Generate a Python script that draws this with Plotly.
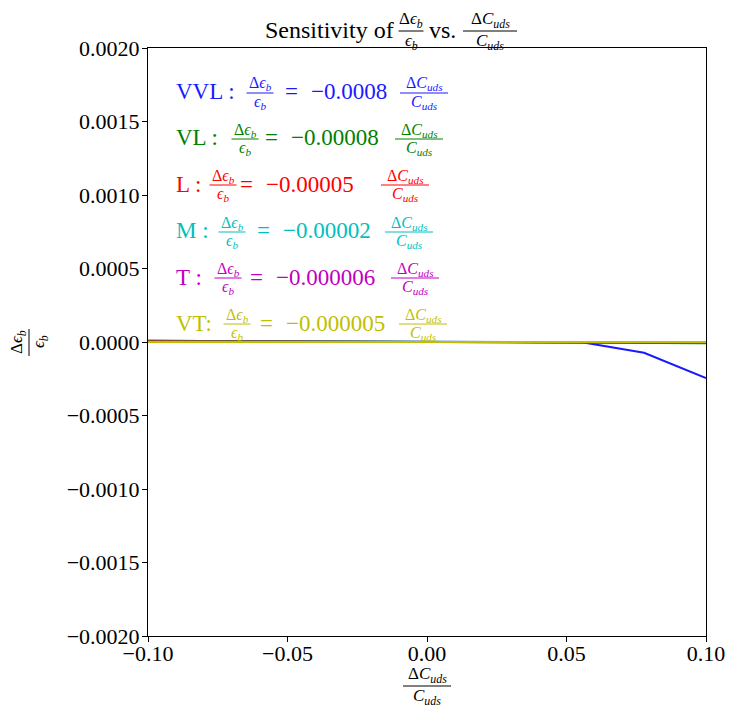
import plotly.graph_objects as go

# ---------------- data ----------------
x_vals = [-0.1, -0.0778, -0.0556, -0.0333, -0.0111, 0.0111, 0.0333, 0.0556, 0.0778, 0.1]
vvl = [0.000008, 0.000007, 0.000006, 0.000005, 0.000004, 0.000003, 0.000002, -0.000001, -0.000073, -0.000245]
vl = [0.000008, 0.0000062, 0.0000044, 0.0000027, 0.0000009, -0.0000009, -0.0000027, -0.0000044, -0.0000062, -0.000008]
l_ = [0.000005, 0.0000039, 0.0000028, 0.0000017, 0.0000006, -0.0000006, -0.0000017, -0.0000028, -0.0000039, -0.000005]
m_ = [0.000002, 0.0000016, 0.0000011, 0.0000007, 0.0000002, -0.0000002, -0.0000007, -0.0000011, -0.0000016, -0.000002]
t_ = [0.0000006, 0.0000005, 0.0000003, 0.0000002, 0.0000001, -0.0000001, -0.0000002, -0.0000003, -0.0000005, -0.0000006]
vt = [0.0000005, 0.0000004, 0.0000003, 0.0000002, 0.0000001, -0.0000001, -0.0000002, -0.0000003, -0.0000004, -0.0000005]

series_names = ["VVL", "VL", "L", "M", "T", "VT"]
series_values = [vvl, vl, l_, m_, t_, vt]
series_labels = ["VVL :", "VL :", "L :", "M :", "T :", "VT:"]
series_slopes = ["−0.0008", "−0.00008", "−0.00005", "−0.00002", "−0.000006", "−0.000005"]
colors = ["#1a1aff", "#008000", "#ff0000", "#00bfbf", "#bf00bf", "#bfbf00"]

x_ticks = [-0.1, -0.05, 0.0, 0.05, 0.1]
y_ticks = [-0.002, -0.0015, -0.001, -0.0005, 0.0, 0.0005, 0.001, 0.0015, 0.002]

# ---------------- layout geometry (pixels) ----------------
W, H = 730, 710
L, R, T, B = 148, 706, 48, 636
FONT = "Liberation Serif, DejaVu Serif, serif"

def px(x):
    return (x - L) / (R - L)

def py(y):
    return (B - y) / (B - T)

EPS_NUM = "Δ<i>ϵ</i><sub><i>b</i></sub>"
EPS_DEN = "<i>ϵ</i><sub><i>b</i></sub>"
C_NUM = "Δ<i>C</i><sub><i>uds</i></sub>"
C_DEN = "<i>C</i><sub><i>uds</i></sub>"

annotations = []
shapes = []

def text(x, y, s, size, color, xanchor="center", angle=0):
    annotations.append(dict(x=px(x), y=py(y), xref="paper", yref="paper", text=s,
                            showarrow=False, xanchor=xanchor, yanchor="middle",
                            textangle=angle, borderpad=0,
                            font=dict(family=FONT, size=size, color=color)))

def frac(cx, cy, num, den, width, size, color, gap=10):
    text(cx, cy - gap, num, size, color)
    text(cx, cy + gap, den, size, color)
    shapes.append(dict(type="line", xref="paper", yref="paper",
                       x0=px(cx - width / 2), x1=px(cx + width / 2),
                       y0=py(cy), y1=py(cy), line=dict(color=color, width=1)))

# title
text(395, 30, "Sensitivity of", 24, "black", xanchor="right")
frac(411, 31, EPS_NUM, EPS_DEN, 25, 17, "black", gap=11)
text(428, 30, "vs.", 24, "black", xanchor="left")
frac(490, 31, C_NUM, C_DEN, 54, 17, "black", gap=11)

# x axis label
frac(427, 686, C_NUM, C_DEN, 48, 17, "black", gap=11)
# y axis label (rotated)
text(18, 342, EPS_NUM, 17, "black", angle=-90)
text(40, 342, EPS_DEN, 17, "black", angle=-90)
shapes.append(dict(type="line", xref="paper", yref="paper",
                   x0=px(29), x1=px(29), y0=py(329), y1=py(356),
                   line=dict(color="black", width=1)))

# in-plot equations
row_y = [92, 138, 184, 231, 277, 323]
row_f1 = [260, 245, 223, 232, 228, 237]
row_eq = [284, 264, 239, 256, 249, 259]
row_f2 = [424, 419, 405, 409, 415, 423]
for i in range(6):
    c = colors[i]
    text(175, row_y[i], series_labels[i], 23, c, xanchor="left")
    frac(row_f1[i], row_y[i] + 1, EPS_NUM, EPS_DEN, 27, 16, c, gap=9)
    text(row_eq[i], row_y[i], "=", 23, c, xanchor="left")
    text(row_eq[i] + 26, row_y[i], series_slopes[i], 23, c, xanchor="left")
    frac(row_f2[i], row_y[i] + 1, C_NUM, C_DEN, 48, 16, c, gap=9)

fig = go.Figure()
for name, vals, c in zip(series_names, series_values, colors):
    fig.add_trace(go.Scatter(x=x_vals, y=vals, mode="lines", name=name,
                             line=dict(color=c, width=2), showlegend=False))

axis_common = dict(showgrid=False, zeroline=False, showline=True, mirror=True,
                   linecolor="black", linewidth=1, ticks="outside", ticklen=5,
                   tickwidth=1, tickcolor="black", automargin=False,
                   tickfont=dict(family=FONT, size=22, color="black"))

fig.update_layout(
    width=W, height=H,
    margin=dict(l=L, r=W - R, t=T, b=H - B, autoexpand=False),
    paper_bgcolor="white", plot_bgcolor="white",
    xaxis=dict(range=[-0.1, 0.1], tickvals=x_ticks, tickformat=".2f",
               ticklabelstandoff=-7, **axis_common),
    yaxis=dict(range=[-0.002, 0.002], tickvals=y_ticks, tickformat=".4f",
               ticklabelstandoff=-2, **axis_common),
    annotations=annotations, shapes=shapes,
)

fig.write_html("out.html")
